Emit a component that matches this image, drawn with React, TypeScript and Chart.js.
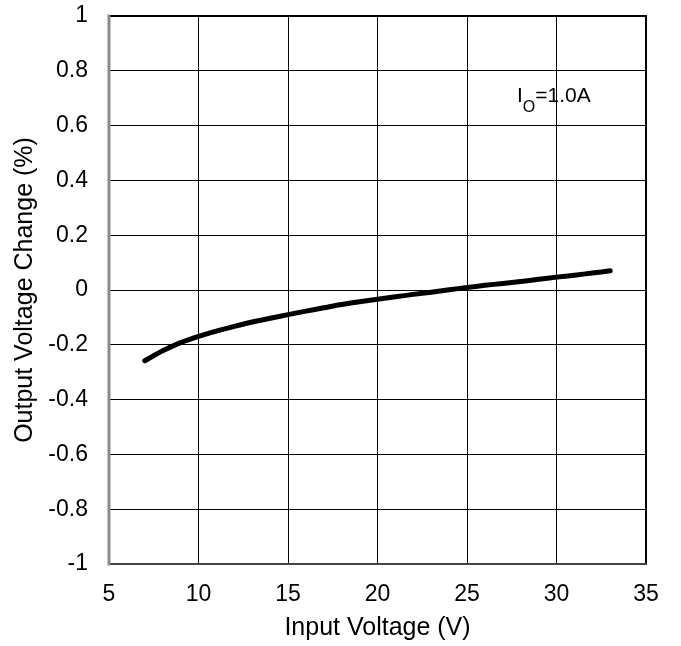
import React, { useEffect, useRef } from 'react';
import { Chart, registerables } from 'chart.js';

Chart.register(...registerables);

// Input voltage (V) and output voltage change (%)
const inputVoltage = [7, 8, 9, 10, 11, 12, 13, 14, 15, 16, 17, 18, 19, 20, 21, 22, 23, 24, 25, 26, 27, 28, 29, 30, 31, 32, 33];
const outputChange = [
  -0.258, -0.222, -0.192, -0.169, -0.15, -0.133, -0.117, -0.103, -0.09, -0.077, -0.065, -0.053, -0.043, -0.034,
  -0.025, -0.016, -0.008, 0.001, 0.009, 0.017, 0.024, 0.031, 0.039, 0.047, 0.054, 0.062, 0.07,
];
const annotationPos = { x: 27.79, y: 0.687 };

const FONT = "Arial, 'Liberation Sans', sans-serif";

// Frame around the plot area plus the I_O=1.0A label
const framePlugin = {
  id: 'frame',
  afterDraw(chart) {
    const { ctx, chartArea: a, scales } = chart;
    ctx.save();
    ctx.lineCap = 'square';
    ctx.strokeStyle = '#000';
    ctx.lineWidth = 2;
    ctx.beginPath();
    ctx.moveTo(a.left, a.top);
    ctx.lineTo(a.right, a.top);
    ctx.lineTo(a.right, a.bottom);
    ctx.stroke();
    ctx.strokeStyle = '#444';
    ctx.beginPath();
    ctx.moveTo(a.left, a.bottom);
    ctx.lineTo(a.right, a.bottom);
    ctx.stroke();
    ctx.strokeStyle = '#8c8c8c';
    ctx.lineWidth = 3;
    ctx.beginPath();
    ctx.moveTo(a.left, a.top);
    ctx.lineTo(a.left, a.bottom);
    ctx.stroke();

    const px = scales.x.getPixelForValue(annotationPos.x);
    const py = scales.y.getPixelForValue(annotationPos.y);
    ctx.fillStyle = '#000';
    ctx.textBaseline = 'alphabetic';
    ctx.textAlign = 'left';
    ctx.font = `21px ${FONT}`;
    ctx.fillText('I', px, py);
    let w = ctx.measureText('I').width;
    ctx.font = `16px ${FONT}`;
    ctx.fillText('O', px + w, py + 10);
    w += ctx.measureText('O').width;
    ctx.font = `21px ${FONT}`;
    ctx.fillText('=1.0A', px + w, py);
    ctx.restore();
  },
};

export default function App() {
  const canvasRef = useRef(null);

  useEffect(() => {
    if (!canvasRef.current) return;
    const chart = new Chart(canvasRef.current, {
      type: 'line',
      data: {
        datasets: [
          {
            data: inputVoltage.map((v, i) => ({ x: v, y: outputChange[i] })),
            borderColor: '#000',
            borderWidth: 5,
            borderCapStyle: 'round',
            pointRadius: 0,
            tension: 0.3,
            fill: false,
          },
        ],
      },
      options: {
        animation: false,
        responsive: false,
        maintainAspectRatio: false,
        layout: { padding: { top: 16, right: 35, left: 0, bottom: 0 } },
        plugins: { legend: { display: false }, tooltip: { enabled: false } },
        scales: {
          x: {
            type: 'linear',
            min: 5,
            max: 35,
            afterFit: (s) => {
              s.height = 82;
              s.paddingLeft = 0;
              s.paddingRight = 0;
            },
            ticks: { stepSize: 5, color: '#000', padding: 17, maxRotation: 0, font: { family: FONT, size: 23 } },
            grid: { color: '#000', lineWidth: 1, drawTicks: false },
            border: { display: false },
            title: {
              display: true,
              text: 'Input Voltage (V)',
              color: '#000',
              font: { family: FONT, size: 25 },
              padding: { top: 0, bottom: 3 },
            },
          },
          y: {
            min: -1,
            max: 1,
            afterFit: (s) => {
              s.width = 109;
              s.paddingTop = 0;
              s.paddingBottom = 0;
            },
            ticks: {
              stepSize: 0.2,
              color: '#000',
              padding: 21,
              font: { family: FONT, size: 23 },
              callback: (v) => String(Number(Number(v).toFixed(1))),
            },
            grid: { color: '#000', lineWidth: 1, drawTicks: false },
            border: { display: false },
            title: {
              display: true,
              text: 'Output Voltage Change (%)',
              color: '#000',
              font: { family: FONT, size: 25 },
              padding: { top: 10, bottom: 0 },
            },
          },
        },
      },
      plugins: [framePlugin],
    });
    return () => chart.destroy();
  }, []);

  return (
    <div style={{ position: 'fixed', left: 0, top: 0, width: 681, height: 646, background: '#fff' }}>
      <canvas ref={canvasRef} width={681} height={646} style={{ width: 681, height: 646 }}></canvas>
    </div>
  );
}
